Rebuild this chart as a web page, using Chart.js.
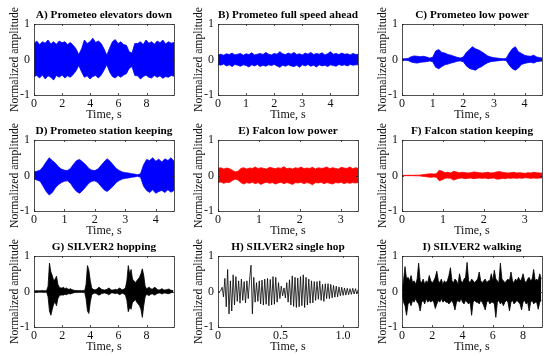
<!DOCTYPE html>
<html>
<head>
<meta charset="utf-8">
<script src="https://cdn.jsdelivr.net/npm/chart.js@4.4.1/dist/chart.umd.min.js"></script>
<style>
  body { margin: 0; background: #fff; width: 550px; height: 356px; position: relative; overflow: hidden; }
  canvas { position: absolute; }
</style>
</head>
<body>
<script>
const aStep = 0.199;
const aUpper = [0.45,0.52,0.42,0.5,0.46,0.55,0.44,0.5,0.43,0.52,
  0.47,0.5,0.42,0.48,0.4,0.3,0.14,0.3,0.55,0.45,
  0.5,0.6,0.48,0.52,0.45,0.3,0.12,0.32,0.5,0.56,
  0.45,0.5,0.42,0.4,0.22,0.18,0.45,0.45,0.5,0.42,
  0.55,0.46,0.5,0.43,0.52,0.47,0.55,0.44,0.5,0.46,
  0.48];
const aLower = [-0.48,-0.45,-0.52,-0.44,-0.55,-0.46,-0.5,-0.58,-0.45,-0.5,
  -0.44,-0.52,-0.46,-0.5,-0.42,-0.32,-0.17,-0.35,-0.5,-0.46,
  -0.55,-0.48,-0.45,-0.52,-0.44,-0.3,-0.15,-0.35,-0.48,-0.52,
  -0.45,-0.5,-0.44,-0.4,-0.25,-0.2,-0.45,-0.46,-0.55,-0.48,
  -0.44,-0.5,-0.52,-0.45,-0.5,-0.46,-0.53,-0.48,-0.5,-0.45,
  -0.47];

const bStep = 0.1;
const bUpper = [0.13,0.15,0.12,0.16,0.14,0.18,0.13,0.15,0.17,0.12,
  0.16,0.14,0.19,0.13,0.15,0.17,0.14,0.2,0.15,0.13,
  0.17,0.15,0.22,0.16,0.14,0.18,0.15,0.2,0.14,0.16,
  0.13,0.18,0.15,0.2,0.14,0.17,0.15,0.19,0.13,0.16,
  0.22,0.15,0.17,0.14,0.18,0.15,0.16,0.13,0.17,0.14,
  0.15];
const bLower = [-0.14,-0.16,-0.13,-0.18,-0.15,-0.2,-0.14,-0.16,-0.19,-0.15,
  -0.17,-0.21,-0.15,-0.18,-0.14,-0.2,-0.16,-0.19,-0.15,-0.17,
  -0.14,-0.18,-0.22,-0.16,-0.19,-0.15,-0.18,-0.2,-0.16,-0.22,
  -0.15,-0.18,-0.14,-0.19,-0.16,-0.21,-0.15,-0.18,-0.16,-0.2,
  -0.15,-0.17,-0.19,-0.14,-0.17,-0.15,-0.18,-0.14,-0.16,-0.15,
  -0.15];

const cStep = 0.1;
const cUpper = [0.02,0.02,0.03,0.08,0.1,0.09,0.08,0.09,0.07,0.04,
  0.06,0.24,0.28,0.2,0.18,0.14,0.12,0.09,0.06,0.04,
  0.07,0.2,0.28,0.36,0.3,0.27,0.22,0.16,0.1,0.07,
  0.05,0.04,0.03,0.02,0.03,0.18,0.3,0.36,0.22,0.17,
  0.12,0.1,0.09,0.12,0.07,0.05,0.04];
const cLower = [-0.02,-0.02,-0.03,-0.07,-0.09,-0.1,-0.08,-0.07,-0.06,-0.04,
  -0.06,-0.22,-0.26,-0.2,-0.15,-0.13,-0.1,-0.08,-0.05,-0.04,
  -0.06,-0.18,-0.25,-0.28,-0.3,-0.24,-0.2,-0.14,-0.09,-0.06,
  -0.05,-0.04,-0.03,-0.02,-0.03,-0.16,-0.26,-0.3,-0.24,-0.14,
  -0.11,-0.09,-0.08,-0.1,-0.06,-0.05,-0.04];

const dStep = 0.1;
const dUpper = [0.1,0.12,0.15,0.25,0.38,0.5,0.42,0.35,0.25,0.18,
  0.15,0.14,0.2,0.32,0.42,0.45,0.38,0.3,0.2,0.15,
  0.14,0.18,0.28,0.38,0.47,0.4,0.3,0.2,0.14,0.1,
  0.08,0.07,0.05,0.04,0.02,0.05,0.3,0.45,0.42,0.5,
  0.4,0.46,0.38,0.47,0.42,0.5,0.4];
const dLower = [-0.1,-0.13,-0.16,-0.3,-0.45,-0.55,-0.48,-0.35,-0.26,-0.2,
  -0.16,-0.15,-0.22,-0.35,-0.45,-0.5,-0.42,-0.32,-0.22,-0.16,
  -0.15,-0.2,-0.3,-0.4,-0.45,-0.38,-0.3,-0.2,-0.14,-0.1,
  -0.08,-0.07,-0.05,-0.04,-0.02,-0.05,-0.3,-0.42,-0.48,-0.4,
  -0.5,-0.45,-0.42,-0.48,-0.4,-0.47,-0.42];

const eStep = 0.07;
const eUpper = [0.2,0.22,0.18,0.21,0.19,0.15,0.1,0.12,0.2,0.22,
  0.18,0.21,0.2,0.24,0.19,0.22,0.2,0.18,0.23,0.21,
  0.19,0.22,0.2,0.25,0.19,0.21,0.18,0.22,0.2,0.24,
  0.19,0.21,0.2,0.23,0.18,0.22,0.2,0.21,0.24,0.19,
  0.22,0.2,0.18,0.23,0.21,0.2,0.24,0.19,0.22,0.2];
const eLower = [-0.2,-0.18,-0.22,-0.19,-0.2,-0.14,-0.1,-0.13,-0.2,-0.24,
  -0.2,-0.22,-0.19,-0.23,-0.2,-0.25,-0.21,-0.19,-0.22,-0.2,
  -0.24,-0.21,-0.19,-0.23,-0.2,-0.22,-0.25,-0.2,-0.21,-0.19,
  -0.23,-0.2,-0.22,-0.26,-0.2,-0.21,-0.19,-0.23,-0.2,-0.22,
  -0.24,-0.2,-0.21,-0.19,-0.23,-0.2,-0.22,-0.2,-0.21,-0.2];

const fStep = 0.07;
const fUpper = [0.005,0.005,0.005,0.005,0.005,0.01,0.01,0.02,0.03,0.04,
  0.05,0.04,0.05,0.15,0.12,0.08,0.09,0.07,0.12,0.1,
  0.08,0.09,0.08,0.07,0.08,0.1,0.09,0.08,0.07,0.08,
  0.09,0.07,0.08,0.1,0.11,0.09,0.08,0.07,0.08,0.09,
  0.07,0.08,0.07,0.06,0.08,0.07,0.09,0.08,0.07,0.07];
const fLower = [-0.005,-0.005,-0.005,-0.005,-0.005,-0.01,-0.01,-0.02,-0.03,-0.04,
  -0.05,-0.04,-0.05,-0.15,-0.12,-0.08,-0.07,-0.08,-0.13,-0.1,
  -0.08,-0.07,-0.09,-0.08,-0.07,-0.09,-0.08,-0.07,-0.08,-0.07,
  -0.09,-0.08,-0.07,-0.1,-0.1,-0.08,-0.09,-0.07,-0.08,-0.07,
  -0.08,-0.07,-0.08,-0.06,-0.07,-0.08,-0.07,-0.08,-0.07,-0.07];

const gStep = 0.1;
const gUpper = [0.02,0.02,0.02,0.02,0.02,0.02,0.03,0.02,0.02,0.03,
  0.15,0.8,0.55,0.45,0.3,0.35,0.43,0.2,0.12,0.1,
  0.1,0.12,0.08,0.1,0.07,0.06,0.08,0.05,0.04,0.03,
  0.03,0.03,0.02,0.03,0.02,0.03,0.02,0.2,0.73,0.6,
  0.3,0.1,0.06,0.05,0.05,0.08,0.12,0.1,0.06,0.05,
  0.04,0.05,0.06,0.1,0.08,0.04,0.04,0.05,0.06,0.04,
  0.08,0.1,0.06,0.05,0.07,0.1,0.3,0.73,0.5,0.62,
  0.35,0.3,0.25,0.3,0.35,0.4,0.5,0.64,0.45,0.15,
  0.08,0.1,0.12,0.08,0.06,0.1,0.12,0.08,0.05,0.04,
  0.06,0.08,0.05,0.04,0.05,0.06,0.07,0.04,0.03,0.03];
const gLower = [-0.02,-0.02,-0.03,-0.02,-0.02,-0.02,-0.02,-0.03,-0.02,-0.02,
  -0.15,-0.55,-0.67,-0.5,-0.35,-0.3,-0.4,-0.2,-0.12,-0.1,
  -0.1,-0.1,-0.08,-0.09,-0.07,-0.06,-0.07,-0.05,-0.04,-0.03,
  -0.03,-0.03,-0.02,-0.03,-0.02,-0.03,-0.02,-0.2,-0.55,-0.62,
  -0.3,-0.1,-0.06,-0.05,-0.05,-0.08,-0.1,-0.09,-0.06,-0.05,
  -0.04,-0.05,-0.06,-0.09,-0.07,-0.04,-0.04,-0.05,-0.06,-0.04,
  -0.07,-0.09,-0.06,-0.05,-0.07,-0.1,-0.25,-0.57,-0.45,-0.5,
  -0.3,-0.28,-0.22,-0.3,-0.35,-0.4,-0.5,-0.73,-0.4,-0.15,
  -0.08,-0.1,-0.11,-0.08,-0.06,-0.09,-0.1,-0.07,-0.05,-0.04,
  -0.05,-0.07,-0.05,-0.04,-0.05,-0.06,-0.06,-0.04,-0.03,-0.03];

// single hop: individual half-cycle extremes
const hStep = 0.011;
const hValues = [0,0,0.02,
  0.12,-0.15,0.37,-0.43,0.62,-0.63,0.3,-0.55,0.47,-0.38,
  0.42,-0.28,0.3,-0.33,0.35,-0.25,0.28,-0.32,0.3,-0.2,
  0.35,0.74,-0.63,0.4,-0.3,0.25,-0.28,
  0.3,-0.35,0.32,-0.38,0.35,-0.36,0.37,-0.4,0.34,-0.38,0.42,-0.36,0.4,-0.3,0.25,-0.2,0.15,
  -0.12,0.1,-0.18,
  0.25,-0.3,0.33,-0.38,0.44,-0.42,0.4,-0.45,0.38,-0.43,0.42,-0.4,0.47,-0.45,0.4,-0.38,0.35,-0.33,0.3,-0.32,0.28,-0.25,
  0.28,-0.22,0.3,-0.25,0.2,-0.28,0.22,-0.2,
  0.22,-0.2,0.2,-0.18,0.17,-0.16,0.15,-0.15,0.13,-0.12,0.12,-0.11,0.1,-0.1,0.09,-0.09,0.08,-0.08,0.09,-0.07,0.08,-0.07,0.06];

const iStep = 0.1;
const iUpper = [0.05,0.3,0.7,0.35,0.4,0.3,0.45,0.25,0.3,0.2,
  0.35,0.8,0.3,0.25,0.35,0.2,0.3,0.25,0.45,0.3,
  0.25,0.3,0.4,0.57,0.3,0.25,0.35,0.2,0.3,0.25,
  0.3,0.45,0.67,0.3,0.25,0.35,0.3,0.2,0.5,0.3,
  0.25,0.35,0.4,0.82,0.3,0.25,0.35,0.3,0.25,0.3,
  0.35,0.55,0.3,0.25,0.3,0.35,0.25,0.3,0.3,0.5,
  0.3,0.6,0.35,0.3,0.25,0.8,0.35,0.3,0.25,0.3,
  0.35,0.3,0.55,0.3,0.25,0.35,0.3,0.4,0.3,0.35,
  0.5,0.3,0.25,0.35,0.4,0.3,0.35,0.62,0.3,0.35,
  0.3,0.5,0.35];
const iLower = [-0.05,-0.3,-0.4,-0.67,-0.35,-0.3,-0.4,-0.25,-0.3,-0.2,
  -0.3,-0.35,-0.55,-0.3,-0.25,-0.35,-0.2,-0.3,-0.25,-0.3,
  -0.25,-0.3,-0.48,-0.35,-0.25,-0.3,-0.2,-0.3,-0.25,-0.3,
  -0.3,-0.35,-0.3,-0.25,-0.35,-0.52,-0.3,-0.25,-0.3,-0.2,
  -0.3,-0.35,-0.25,-0.3,-0.35,-0.3,-0.67,-0.3,-0.25,-0.3,
  -0.3,-0.35,-0.25,-0.3,-0.4,-0.52,-0.3,-0.25,-0.35,-0.3,
  -0.3,-0.35,-0.73,-0.3,-0.25,-0.35,-0.3,-0.4,-0.3,-0.25,
  -0.3,-0.55,-0.3,-0.25,-0.35,-0.3,-0.25,-0.3,-0.35,-0.52,
  -0.3,-0.25,-0.35,-0.3,-0.55,-0.3,-0.25,-0.35,-0.3,-0.3,
  -0.5,-0.3,-0.25];

const yTicks = [-1, 0, 1];

const panels = [
  { title: 'A) Prometeo elevators down', color: '#0000ff', step: aStep, upper: aUpper, lower: aLower, xMax: 9.95, xStep: 2 },
  { title: 'B) Prometeo full speed ahead', color: '#0000ff', step: bStep, upper: bUpper, lower: bLower, xMax: 4.98, xStep: 1 },
  { title: 'C) Prometeo low power', color: '#0000ff', step: cStep, upper: cUpper, lower: cLower, xMax: 4.57, xStep: 1 },
  { title: 'D) Prometeo station keeping', color: '#0000ff', step: dStep, upper: dUpper, lower: dLower, xMax: 4.6, xStep: 1 },
  { title: 'E) Falcon low power', color: '#ff0000', step: eStep, upper: eUpper, lower: eLower, xMax: 3.42, xStep: 1 },
  { title: 'F) Falcon station keeping', color: '#ff0000', step: fStep, upper: fUpper, lower: fLower, xMax: 3.42, xStep: 1 },
  { title: 'G) SILVER2 hopping', color: '#000000', step: gStep, upper: gUpper, lower: gLower, xMax: 9.95, xStep: 2 },
  { title: 'H) SILVER2 single hop', color: '#000000', step: hStep, values: hValues, xMax: 1.12, xStep: 0.5 },
  { title: 'I) SILVER2 walking', color: '#000000', step: iStep, upper: iUpper, lower: iLower, xMax: 9.25, xStep: 2 }
];

const colLeft = [0, 184, 368];
const rowTop = [0, 116, 232];

Chart.defaults.font.family = "'Liberation Serif', 'DejaVu Serif', serif";
Chart.defaults.color = '#111';

// Matlab-like box with inward tick marks
const boxPlugin = {
  id: 'box',
  afterDraw(chart) {
    const { ctx, chartArea: a, scales: { x, y } } = chart;
    ctx.save();
    ctx.strokeStyle = '#262626';
    ctx.lineWidth = 0.8;
    ctx.strokeRect(a.left + 0.5, a.top + 0.5, a.right - a.left, a.bottom - a.top);
    ctx.beginPath();
    x.ticks.forEach(t => {
      const px = Math.round(x.getPixelForValue(t.value)) + 0.5;
      ctx.moveTo(px, a.bottom); ctx.lineTo(px, a.bottom - 2);
      ctx.moveTo(px, a.top); ctx.lineTo(px, a.top + 2);
    });
    y.ticks.forEach(t => {
      const py = Math.round(y.getPixelForValue(t.value)) + 0.5;
      ctx.moveTo(a.left, py); ctx.lineTo(a.left + 2, py);
      ctx.moveTo(a.right, py); ctx.lineTo(a.right - 2, py);
    });
    ctx.stroke();
    ctx.restore();
  }
};

panels.forEach((p, i) => {
  const col = i % 3, row = Math.floor(i / 3);
  const cv = document.createElement('canvas');
  cv.width = 182;
  cv.height = 124;
  cv.style.left = colLeft[col] + 'px';
  cv.style.top = rowTop[row] + 'px';
  document.body.appendChild(cv);

  let datasets;
  if (p.values) {
    datasets = [{
      data: p.values.map((v, k) => ({ x: k * p.step, y: v })),
      borderColor: p.color, borderWidth: 0.8, fill: false
    }];
  } else {
    datasets = [
      { data: p.upper.map((v, k) => ({ x: k * p.step, y: v })), borderColor: p.color, borderWidth: 0.8, fill: false },
      { data: p.lower.map((v, k) => ({ x: k * p.step, y: v })), borderColor: p.color, borderWidth: 0.8,
        fill: '-1', backgroundColor: p.color }
    ];
  }

  new Chart(cv, {
    type: 'line',
    data: { datasets },
    options: {
      responsive: false,
      animation: false,
      devicePixelRatio: 1,
      elements: { point: { radius: 0 }, line: { tension: 0 } },
      layout: { padding: { top: 4.44, right: 8, bottom: 0, left: 0 } },
      plugins: {
        legend: { display: false },
        tooltip: { enabled: false },
        title: {
          display: true, text: p.title, fullSize: false, color: '#000',
          font: { size: 11.3, weight: 'bold' },
          padding: { top: 4, bottom: 2 }
        }
      },
      scales: {
        x: {
          type: 'linear', min: 0, max: p.xMax,
          grid: { display: false, drawTicks: false },
          border: { display: false },
          ticks: { stepSize: p.xStep, includeBounds: false, padding: 2, maxRotation: 0, autoSkip: false,
                   font: { size: 12 }, color: '#111' },
          title: { display: true, text: 'Time, s', font: { size: 12 }, color: '#111', padding: { top: 0, bottom: 2 } },
          afterFit(s) { s.height = 29; }
        },
        y: {
          min: -1, max: 1,
          grid: { display: false, drawTicks: false },
          border: { display: false },
          afterBuildTicks(s) { s.ticks = yTicks.map(v => ({ value: v })); },
          ticks: { padding: 4, font: { size: 12 }, color: '#111' },
          title: { display: true, text: 'Normalized amplitude', font: { size: 11.7 }, color: '#111', padding: { top: 8, bottom: 0 } },
          afterFit(s) { s.width = 34; }
        }
      }
    },
    plugins: [boxPlugin]
  });
});
</script>
</body>
</html>
